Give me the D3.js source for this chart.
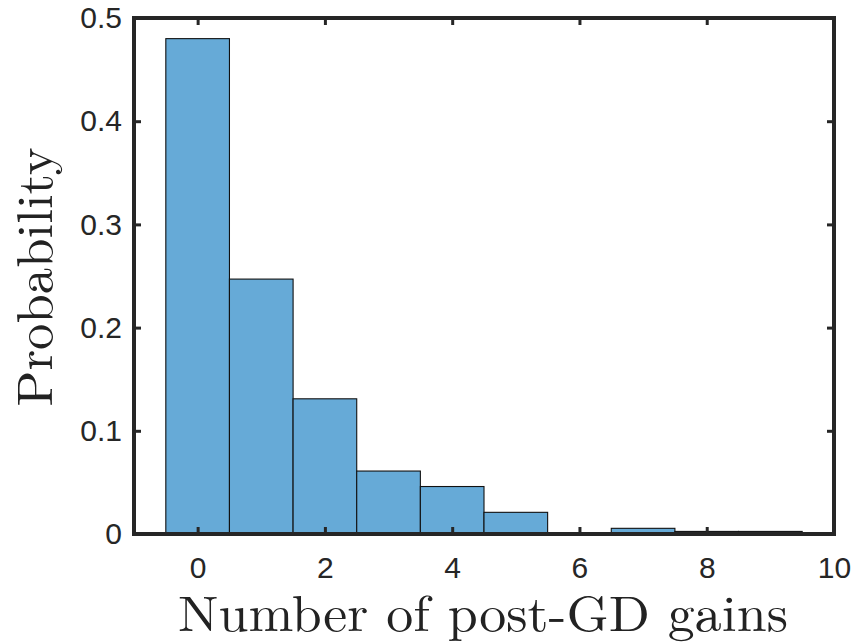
<!DOCTYPE html>
<html>
<head>
<meta charset="utf-8">
<script src="https://cdn.jsdelivr.net/npm/d3@7"></script>
<style>
  html, body { margin: 0; padding: 0; background: #ffffff; }
  svg { display: block; }
</style>
</head>
<body>
<svg id="chart" width="853" height="644"></svg>
<script>
// Histogram of the number of post-GD gains (unit-width bins centred on integers)
const binCenters = [0, 1, 2, 3, 4, 5, 6, 7, 8, 9];
const probability = [0.480, 0.247, 0.131, 0.061, 0.046, 0.021, 0, 0.0055, 0.0025, 0.0025];

const xTicks = [0, 2, 4, 6, 8, 10];
const xTickLabels = ["0", "2", "4", "6", "8", "10"];
const yTicks = [0, 0.1, 0.2, 0.3, 0.4, 0.5];
const yTickLabels = ["0", "0.1", "0.2", "0.3", "0.4", "0.5"];

const xTitle = "Number of post-GD gains";
const yTitle = "Probability";

const W = 853, H = 644;
const box = { left: 134, right: 834, top: 18, bottom: 534 };
const axisColor = "#262626";

const svg = d3.select("#chart");

const x = d3.scaleLinear().domain([-1, 10]).range([box.left, box.right]);
const y = d3.scaleLinear().domain([0, 0.5]).range([box.bottom, box.top]);

// bars
svg.append("g")
  .selectAll("rect")
  .data(binCenters.map((c, i) => ({ c, p: probability[i] })).filter(d => d.p > 0))
  .join("rect")
  .attr("x", d => x(d.c - 0.5))
  .attr("width", d => x(d.c + 0.5) - x(d.c - 0.5))
  .attr("y", d => y(d.p))
  .attr("height", d => y(0) - y(d.p))
  .attr("fill", "#66aad7")
  .attr("stroke", "#111111")
  .attr("stroke-width", 1.1);

// axes with inward ticks on all four sides
function styleAxis(g) {
  g.select(".domain").remove();
  g.selectAll(".tick line").attr("stroke", axisColor).attr("stroke-width", 3);
  g.selectAll(".tick text")
    .attr("fill", axisColor)
    .attr("font-family", "'Liberation Sans', Arial, Helvetica, sans-serif")
    .attr("font-size", 30);
}

const xFmt = d => xTickLabels[xTicks.indexOf(d)];
const yFmt = d => yTickLabels[yTicks.indexOf(d)];

const gx = svg.append("g")
  .attr("transform", `translate(0,${box.bottom})`)
  .call(d3.axisBottom(x).tickValues(xTicks).tickFormat(xFmt).tickSizeInner(-7).tickSizeOuter(0))
  .call(styleAxis);
gx.selectAll(".tick text").attr("y", 44).attr("dy", 0);

svg.append("g")
  .attr("transform", `translate(0,${box.top})`)
  .call(d3.axisTop(x).tickValues(xTicks).tickFormat("").tickSizeInner(-7).tickSizeOuter(0))
  .call(styleAxis);

svg.append("g")
  .attr("transform", `translate(${box.left},0)`)
  .call(d3.axisLeft(y).tickValues(yTicks).tickFormat(yFmt).tickSizeInner(-7).tickSizeOuter(0).tickPadding(12))
  .call(styleAxis);

svg.append("g")
  .attr("transform", `translate(${box.right},0)`)
  .call(d3.axisRight(y).tickValues(yTicks).tickFormat("").tickSizeInner(-7).tickSizeOuter(0))
  .call(styleAxis);

// frame
svg.append("rect")
  .attr("x", box.left)
  .attr("y", box.top)
  .attr("width", box.right - box.left)
  .attr("height", box.bottom - box.top)
  .attr("fill", "none")
  .attr("stroke", axisColor)
  .attr("stroke-width", 4);

// axis titles
const serif = "'Latin Modern Roman', 'CMU Serif', 'Liberation Serif', 'Times New Roman', serif";

svg.append("text")
  .attr("x", 483)
  .attr("y", 631)
  .attr("text-anchor", "middle")
  .attr("font-family", serif)
  .attr("font-size", 50)
  .attr("fill", "#222222")
  .attr("textLength", 610)
  .attr("lengthAdjust", "spacingAndGlyphs")
  .text(xTitle);

svg.append("text")
  .attr("transform", "translate(52,277) rotate(-90)")
  .attr("text-anchor", "middle")
  .attr("font-family", serif)
  .attr("font-size", 50)
  .attr("fill", "#222222")
  .attr("textLength", 259)
  .attr("lengthAdjust", "spacingAndGlyphs")
  .text(yTitle);
</script>
</body>
</html>
